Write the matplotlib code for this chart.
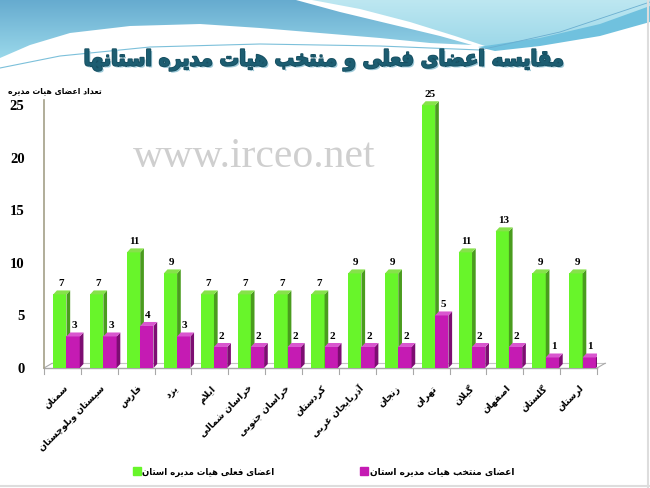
import numpy as np
import matplotlib
matplotlib.use("Agg")
import matplotlib.pyplot as plt
from matplotlib.patches import Polygon, Rectangle
from matplotlib.lines import Line2D
import matplotlib.patheffects as pe

# ======================================================
# DATA
# ======================================================
provinces = ['سمنان', 'سیستان وبلوچستان', 'فارس', 'یزد', 'ایلام',
             'خراسان شمالی', 'خراسان جنوبی', 'کردستان', 'آذربایجان غربی',
             'زنجان', 'تهران', 'گیلان', 'اصفهان', 'گلستان', 'لرستان']
current_members = [7, 7, 11, 9, 7, 7, 7, 7, 9, 9, 25, 11, 13, 9, 9]
elected_members = [3, 3, 4, 3, 2, 2, 2, 2, 2, 2, 5, 2, 2, 1, 1]
y_ticks = [0, 5, 10, 15, 20, 25]

title_text = 'مقایسه اعضای فعلی و منتخب هیات مدیره استانها'
ylabel_text = 'تعداد اعضای هیات مدیره'
legend_current = 'اعضای فعلی هیات مدیره استان'
legend_elected = 'اعضای منتخب هیات مدیره استان'
watermark = 'www.irceo.net'

# ======================================================
# SIMPLE ARABIC / PERSIAN SHAPING (matplotlib has no bidi)
# forms: isolated, final, initial, medial
# ======================================================
FORMS = {
    'ا': ('\uFE8D', '\uFE8E', None, None),
    'آ': ('\uFE81', '\uFE82', None, None),
    'ب': ('\uFE8F', '\uFE90', '\uFE91', '\uFE92'),
    'پ': ('\uFB56', '\uFB57', '\uFB58', '\uFB59'),
    'ت': ('\uFE95', '\uFE96', '\uFE97', '\uFE98'),
    'ج': ('\uFE9D', '\uFE9E', '\uFE9F', '\uFEA0'),
    'چ': ('\uFB7A', '\uFB7B', '\uFB7C', '\uFB7D'),
    'ح': ('\uFEA1', '\uFEA2', '\uFEA3', '\uFEA4'),
    'خ': ('\uFEA5', '\uFEA6', '\uFEA7', '\uFEA8'),
    'د': ('\uFEA9', '\uFEAA', None, None),
    'ذ': ('\uFEAB', '\uFEAC', None, None),
    'ر': ('\uFEAD', '\uFEAE', None, None),
    'ز': ('\uFEAF', '\uFEB0', None, None),
    'س': ('\uFEB1', '\uFEB2', '\uFEB3', '\uFEB4'),
    'ش': ('\uFEB5', '\uFEB6', '\uFEB7', '\uFEB8'),
    'ص': ('\uFEB9', '\uFEBA', '\uFEBB', '\uFEBC'),
    'ض': ('\uFEBD', '\uFEBE', '\uFEBF', '\uFEC0'),
    'ع': ('\uFEC9', '\uFECA', '\uFECB', '\uFECC'),
    'غ': ('\uFECD', '\uFECE', '\uFECF', '\uFED0'),
    'ف': ('\uFED1', '\uFED2', '\uFED3', '\uFED4'),
    'ق': ('\uFED5', '\uFED6', '\uFED7', '\uFED8'),
    'ک': ('\uFB8E', '\uFB8F', '\uFB90', '\uFB91'),
    'گ': ('\uFB92', '\uFB93', '\uFB94', '\uFB95'),
    'ل': ('\uFEDD', '\uFEDE', '\uFEDF', '\uFEE0'),
    'م': ('\uFEE1', '\uFEE2', '\uFEE3', '\uFEE4'),
    'ن': ('\uFEE5', '\uFEE6', '\uFEE7', '\uFEE8'),
    'ه': ('\uFEE9', '\uFEEA', '\uFEEB', '\uFEEC'),
    'و': ('\uFEED', '\uFEEE', None, None),
    'ی': ('\uFBFC', '\uFBFD', '\uFBFE', '\uFBFF'),
}
LAM_ALEF = {'ا': ('\uFEFB', '\uFEFC'), 'آ': ('\uFEF5', '\uFEF6')}


def joins_next(c):
    return c in FORMS and FORMS[c][2] is not None


def fa(text):
    out = []
    i, n = 0, len(text)
    while i < n:
        c = text[i]
        if c not in FORMS:
            out.append(c)
            i += 1
            continue
        conn_prev = i > 0 and joins_next(text[i - 1])
        if c == 'ل' and i + 1 < n and text[i + 1] in LAM_ALEF:
            out.append(LAM_ALEF[text[i + 1]][1 if conn_prev else 0])
            i += 2
            continue
        conn_next = joins_next(c) and i + 1 < n and text[i + 1] in FORMS
        iso, fin, ini, med = FORMS[c]
        if conn_prev and conn_next:
            out.append(med)
        elif conn_prev:
            out.append(fin)
        elif conn_next:
            out.append(ini)
        else:
            out.append(iso)
        i += 1
    return ''.join(reversed(out))


AR_FONT = ['DejaVu Sans']
NUM_FONT = ['Liberation Serif', 'DejaVu Serif']

# ======================================================
# FIGURE + SLIDE BACKGROUND (pixel coords, y down)
# ======================================================
W, H = 650, 488
fig = plt.figure(figsize=(W / 100, H / 100), dpi=100)
fig.patch.set_facecolor('white')
renderer = fig.canvas.get_renderer()


def fit_width(t, target_px):
    bb = t.get_window_extent(renderer)
    t.set_fontsize(t.get_fontsize() * target_px / bb.width)


bg = fig.add_axes([0, 0, 1, 1], zorder=0)
bg.set_xlim(0, W)
bg.set_ylim(H, 0)
bg.axis('off')


def gradient_poly(ax, pts, c_top, c_bot):
    poly = Polygon(pts, closed=True, facecolor='none', edgecolor='none')
    ax.add_patch(poly)
    img = np.linspace(0, 1, 256).reshape(-1, 1)
    cmap = matplotlib.colors.LinearSegmentedColormap.from_list('g', [c_top, c_bot])
    xs = [p[0] for p in pts]
    ys = [p[1] for p in pts]
    im = ax.imshow(img, cmap=cmap, aspect='auto',
                   extent=(min(xs), max(xs), max(ys), min(ys)), zorder=1)
    im.set_clip_path(poly)


left_wave = [(0, 0), (296, 0), (340, 12), (390, 24), (440, 36), (472, 45),
             (430, 43), (380, 38), (320, 33), (260, 28), (200, 24),
             (130, 26), (70, 33), (30, 45), (0, 58)]
gradient_poly(bg, left_wave, '#66abcf', '#9ad8ea')

right_wave = [(312, 0), (650, 0), (650, 10), (610, 24), (560, 38),
              (515, 46), (485, 46), (455, 36), (410, 22), (360, 9)]
gradient_poly(bg, right_wave, '#bde7f1', '#9dd8e9')

band = [(478, 47), (540, 38), (600, 24), (650, 6), (650, 22),
        (600, 36), (540, 46), (495, 51)]
bg.add_patch(Polygon(band, closed=True, facecolor='#70c1de', edgecolor='none', zorder=2))

bg.plot([0, 60, 150, 260, 380, 480], [68, 56, 47, 44, 46, 50], color='#7cc0da', lw=0.8, zorder=2)
bg.plot([480, 560, 650], [50, 32, 2], color='#6aaed0', lw=0.6, zorder=2)
bg.plot([W - 2, W - 2], [0, H], color='#dddddd', lw=1.5, zorder=2)
bg.plot([0, W], [H - 2, H - 2], color='#dddddd', lw=1.5, zorder=2)

# title
title = bg.text(325, 60, fa(title_text), family=AR_FONT, fontweight='bold',
                fontstretch='condensed', fontsize=15,
                color='#1c5d71', ha='center', va='center', zorder=5,
                path_effects=[pe.withSimplePatchShadow(offset=(1.3, -1.3), shadow_rgbFace='#9cc9d8', alpha=1),
                              pe.Stroke(linewidth=1.3, foreground='#174f61'), pe.Normal()])
fit_width(title, 484)

# y axis title + watermark
ylab = bg.text(102, 91, fa(ylabel_text), family=AR_FONT, fontweight='bold', fontsize=6,
               color='black', ha='right', va='center', zorder=5)
fit_width(ylab, 92)
bg.text(254, 157, watermark, family=NUM_FONT, fontsize=30, color='#cfcfcf',
        ha='center', va='center', zorder=3)

# ======================================================
# CHART AXES
# ======================================================
px_left, px_right = 44, 597
px_zero, px_top = 368, 100
ymax = 25.5
ax = fig.add_axes([px_left / W, (H - px_zero) / H, (px_right - px_left) / W,
                   (px_zero - px_top) / H], zorder=4)
ax.patch.set_alpha(0)
n = len(provinces)
ax.set_xlim(0, n)
ax.set_ylim(0, ymax)
for s in ['top', 'right', 'bottom']:
    ax.spines[s].set_visible(False)
ax.spines['left'].set_color('#a39f88')
ax.spines['left'].set_linewidth(1.2)
ax.set_xticks([])
ax.set_yticks(y_ticks)
ax.set_yticklabels([str(t) for t in y_ticks], family=NUM_FONT, fontweight='bold', fontsize=10.5)
ax.tick_params(axis='y', length=0, pad=14)

# floor (3D look)
fdx, fdy = 0.22, 0.45
ax.plot([0, n], [0, 0], color='#a8a8a8', lw=1, clip_on=False)
ax.plot([fdx, n + fdx], [fdy, fdy], color='#c4c4c4', lw=0.8, clip_on=False)
ax.plot([0, fdx], [0, fdy], color='#a8a8a8', lw=0.8, clip_on=False)
ax.plot([n, n + fdx], [0, fdy], color='#a8a8a8', lw=0.8, clip_on=False)
for k in range(n + 1):
    ax.plot([k, k], [0, -0.6], color='#a8a8a8', lw=0.8, clip_on=False)

# 3D bars
bdx, bdy = 0.1, 0.38


def bar3d(x0, w, h, front, side, top):
    ax.add_patch(Rectangle((x0, 0), w, h, facecolor=front, edgecolor='none', zorder=3))
    ax.add_patch(Polygon([(x0 + w, 0), (x0 + w + bdx, bdy), (x0 + w + bdx, h + bdy), (x0 + w, h)],
                         closed=True, facecolor=side, edgecolor='none', zorder=3))
    ax.add_patch(Polygon([(x0, h), (x0 + bdx, h + bdy), (x0 + w + bdx, h + bdy), (x0 + w, h)],
                         closed=True, facecolor=top, edgecolor='none', zorder=3))


g_x, m_x, bw = 0.25, 0.61, 0.36
for i in range(n):
    bar3d(i + g_x, bw, current_members[i], '#68f52a', '#4a9c1e', '#86e24a')
    bar3d(i + m_x, bw, elected_members[i], '#c51bb3', '#7d0d72', '#d957cf')
    ax.text(i + g_x + bw / 2 + 0.03, current_members[i] + bdy + 0.2, str(current_members[i]),
            ha='center', va='bottom', family=NUM_FONT, fontweight='bold', fontsize=8, zorder=5)
    ax.text(i + m_x + bw / 2 + 0.03, elected_members[i] + bdy + 0.2, str(elected_members[i]),
            ha='center', va='bottom', family=NUM_FONT, fontweight='bold', fontsize=8, zorder=5)

# category labels
for i, name in enumerate(provinces):
    ax.text(i + 0.62, -1.8, fa(name), rotation=45, rotation_mode='anchor',
            ha='right', va='center', family=AR_FONT, fontweight='bold', fontsize=6.6,
            clip_on=False)

# legend (two entries, placed like the slide)
leg_specs = [('#68f52a', legend_current, 125, 132), ('#c51bb3', legend_elected, 352, 144)]
for col, lab, x_px, w_px in leg_specs:
    h = Line2D([], [], marker='s', ls='none', color=col, markersize=5.5)
    leg = fig.legend([h], [fa(lab)], loc='center left', bbox_to_anchor=(x_px / W, 1 - 472 / H),
                     frameon=False, handletextpad=0.1, handlelength=1.0,
                     prop={'family': AR_FONT, 'weight': 'bold', 'size': 6.3})
    fit_width(leg.get_texts()[0], w_px)

fig.savefig('out.png', dpi=100, facecolor='white')
